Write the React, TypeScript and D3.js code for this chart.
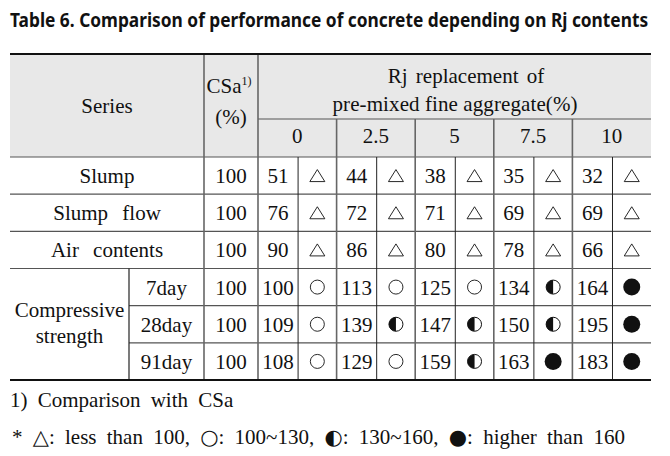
import { useLayoutEffect, useRef, useState } from "react";
import { scaleBand } from "d3";

const title = "Table 6. Comparison of performance of concrete depending on Rj contents";
const groups = ["0", "2.5", "5", "7.5", "10"];
const rowLabels = ["Slump", "Slump flow", "Air contents"];
const dayLabels = ["7day", "28day", "91day"];
const csa = [100, 100, 100, 100, 100, 100];
const slump = [51, 44, 38, 35, 32];
const slumpFlow = [76, 72, 71, 69, 69];
const airContents = [90, 86, 80, 78, 66];
const cs7 = [100, 113, 125, 134, 164];
const cs28 = [109, 139, 147, 150, 195];
const cs91 = [108, 129, 159, 163, 183];
const footnote1 = "1) Comparison with CSa";

const rows = [slump, slumpFlow, airContents, cs7, cs28, cs91];

const W = 670;
const H = 456;
const left = 10;
const right = 651;
const top = 54;
const subTop = 119;
const headBottom = 157;
const bottom = 380;
const colDay = 129;
const colCsa = 204;
const colVals = 258;
const titleWidth = 638;

const serif = "'Liberation Serif', 'Times New Roman', serif";
const ink = "#111";
const lineCol = "#555";

// < 100 triangle, 100~130 open circle, 130~160 half, > 160 filled
function symbolOf(v: number) {
  if (v < 100) return "tri";
  if (v < 130) return "open";
  if (v < 160) return "half";
  return "full";
}

function Symbol({ kind, cx, cy }: { kind: string; cx: number; cy: number }) {
  if (kind === "tri") {
    const w = 15, h = 12;
    return (
      <path
        d={`M${cx},${cy - h / 2} L${cx + w / 2},${cy + h / 2} L${cx - w / 2},${cy + h / 2} Z`}
        fill="none"
        stroke={ink}
        strokeWidth={0.9}
      />
    );
  }
  if (kind === "open") return <circle cx={cx} cy={cy} r={7} fill="none" stroke={ink} strokeWidth={0.9} />;
  if (kind === "half") {
    const r = 7;
    return (
      <g>
        <circle cx={cx} cy={cy} r={r} fill="#fff" stroke={ink} strokeWidth={1} />
        <path d={`M${cx},${cy - r} A${r},${r} 0 0 0 ${cx},${cy + r} Z`} fill={ink} />
      </g>
    );
  }
  return <circle cx={cx} cy={cy} r={8.5} fill={ink} />;
}

export default function App() {
  const titleRef = useRef<SVGTextElement>(null);
  const [titleScale, setTitleScale] = useState(0.82);

  useLayoutEffect(() => {
    const el = titleRef.current;
    if (!el) return;
    const w = el.getComputedTextLength();
    if (w > 0) setTitleScale(titleWidth / w);
  }, []);

  const x = scaleBand<string>().domain(groups).range([colVals, right]);
  const y = scaleBand<number>().domain(rows.map((_, i) => i)).range([headBottom, bottom]);
  const split = 0.51;
  const valCx = (g: string) => (x(g) ?? 0) + (x.bandwidth() * split) / 2;
  const symCx = (g: string) => (x(g) ?? 0) + x.bandwidth() * split + (x.bandwidth() * (1 - split)) / 2;
  const rowMid = (i: number) => (y(i) ?? 0) + y.bandwidth() / 2;
  const sym = { fontFamily: "'DejaVu Sans'", fontSize: 21 };

  return (
    <svg
      width={W}
      height={H}
      viewBox={`0 0 ${W} ${H}`}
      style={{ position: "absolute", left: 0, top: 0, background: "#fff" }}
    >
      <rect width={W} height={H} fill="#fff" />
      <g transform={`translate(10,27) scale(${titleScale},1)`}>
        <text
          ref={titleRef}
          x={0}
          y={0}
          fontFamily="'Noto Sans', sans-serif"
          fontWeight={700}
          fontSize={20}
          fill={ink}
        >
          {title}
        </text>
      </g>

      {/* header background */}
      <rect x={left} y={top} width={right - left} height={headBottom - top} fill="#e8e8e8" />

      {/* header text */}
      <g fontFamily={serif} fontSize={21} fill={ink} textAnchor="middle">
        <text x={(left + colCsa) / 2} y={113}>Series</text>
        <text x={(colCsa + colVals) / 2 - 2} y={93}>
          CSa<tspan fontSize={12} dy={-8}>1)</tspan>
        </text>
        <text x={(colCsa + colVals) / 2} y={124}>(%)</text>
        <text x={466} y={83} style={{ wordSpacing: "3px" }}>Rj replacement of</text>
        <text x={455} y={111} textLength={245} lengthAdjust="spacing">pre-mixed fine aggregate(%)</text>
        {groups.map((g) => (
          <text key={g} x={(x(g) ?? 0) + x.bandwidth() / 2} y={143}>{g}</text>
        ))}
      </g>

      {/* body text */}
      <g fontFamily={serif} fontSize={21} fill={ink} textAnchor="middle">
        {rowLabels.map((l, i) => (
          <text key={l} x={(left + colCsa) / 2} y={rowMid(i) + 7.5} style={{ wordSpacing: "9px" }}>{l}</text>
        ))}
        <text x={(left + colDay) / 2} y={317}>Compressive</text>
        <text x={(left + colDay) / 2} y={343}>strength</text>
        {dayLabels.map((l, i) => (
          <text key={l} x={(colDay + colCsa) / 2} y={rowMid(i + 3) + 7.5}>{l}</text>
        ))}
        {csa.map((v, i) => (
          <text key={"c" + i} x={(colCsa + colVals) / 2} y={rowMid(i) + 7.5}>{v}</text>
        ))}
        {rows.map((r, i) =>
          r.map((v, j) => (
            <text key={`${i}-${j}`} x={valCx(groups[j])} y={rowMid(i) + 7.5}>{v}</text>
          ))
        )}
      </g>
      {rows.map((r, i) =>
        r.map((v, j) => <Symbol key={`s${i}-${j}`} kind={symbolOf(v)} cx={symCx(groups[j])} cy={rowMid(i)} />)
      )}

      {/* grid lines */}
      <g stroke={lineCol} fill="none">
        <line x1={colVals} x2={right} y1={subTop} y2={subTop} strokeWidth={1.2} />
        <line x1={left} x2={right} y1={headBottom} y2={headBottom} strokeWidth={1.2} />
        {rows.map((_, i) =>
          i === 0 ? null : (
            <line
              key={"h" + i}
              x1={i > 3 ? colDay : left}
              x2={right}
              y1={y(i) ?? 0}
              y2={y(i) ?? 0}
              strokeWidth={1.2}
            />
          )
        )}
        <line x1={colCsa} x2={colCsa} y1={top} y2={bottom} strokeWidth={1.6} stroke="#666" />
        <line x1={colVals} x2={colVals} y1={top} y2={bottom} strokeWidth={1.6} stroke="#666" />
        <line x1={colDay} x2={colDay} y1={y(3) ?? 0} y2={bottom} strokeWidth={1.2} stroke="#222" />
        {groups.slice(1).map((g) => (
          <line key={"g" + g} x1={x(g) ?? 0} x2={x(g) ?? 0} y1={subTop} y2={bottom} strokeWidth={1.6} stroke="#666" />
        ))}
        {groups.map((g) => {
          const sx = (x(g) ?? 0) + x.bandwidth() * split;
          return <line key={"v" + g} x1={sx} x2={sx} y1={headBottom} y2={bottom} strokeWidth={1} stroke="#222" />;
        })}
        <line x1={left} x2={right} y1={top} y2={top} strokeWidth={2} stroke="#111" />
        <line x1={left} x2={right} y1={bottom} y2={bottom} strokeWidth={2} stroke="#111" />
      </g>

      {/* footnotes */}
      <g fontFamily={serif} fontSize={21} fill={ink} style={{ wordSpacing: "5px" }}>
        <text x={10} y={407}>{footnote1}</text>
        <text x={12} y={444} style={{ wordSpacing: "5px" }}>
          *{" "}
          <tspan {...sym}>△</tspan>: less than 100,{" "}
          <tspan {...sym}>○</tspan>: 100~130,{" "}
          <tspan {...sym}>◐</tspan>: 130~160,{" "}
          <tspan {...sym}>●</tspan>: higher than 160
        </text>
      </g>
    </svg>
  );
}
